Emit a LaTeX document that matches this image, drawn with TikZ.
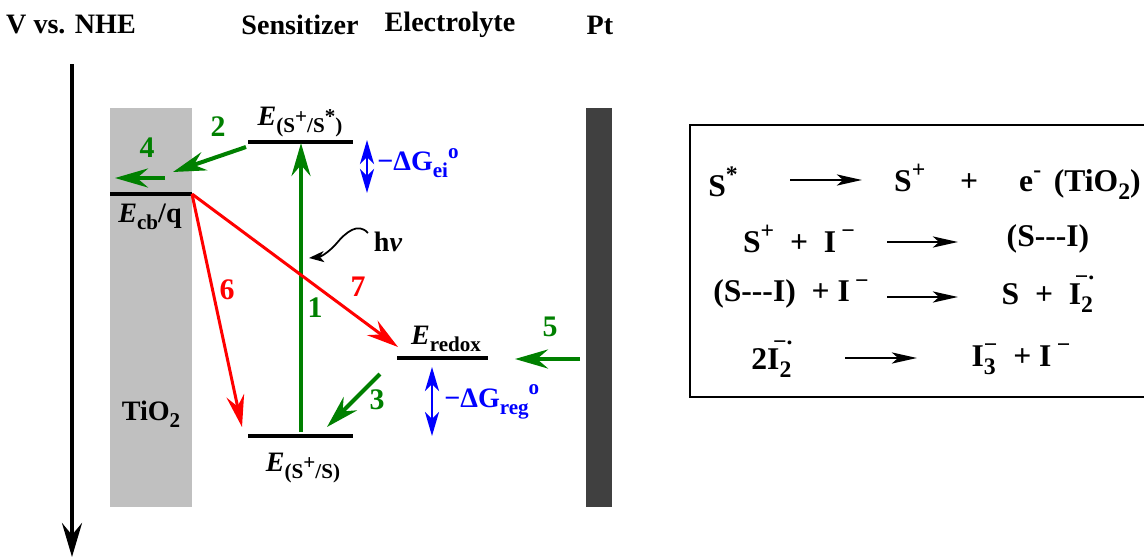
\documentclass[tikz,border=0pt]{standalone}
\usepackage{fontspec}
\setmainfont{Liberation Serif}
\usetikzlibrary{arrows.meta,positioning,calc}
\definecolor{dgreen}{RGB}{0,128,0}
\definecolor{tigray}{RGB}{192,192,192}
\definecolor{ptgray}{RGB}{64,64,64}
\newcommand{\subsz}{12}
\newcommand{\lo}[1]{\raisebox{-0.55ex}{\fontsize{\subsz}{\subsz}\selectfont #1}}
\newcommand{\hi}[1]{\raisebox{0.95ex}{\fontsize{\subsz}{\subsz}\selectfont #1}}
\newcommand{\Itwo}{I\rlap{\lo{2}}\kern-0.2em\raisebox{0.62em}{\fontsize{\subsz}{\subsz}\selectfont −\raisebox{0.45ex}{.}}}
\tikzset{
  >=Stealth,
  txt/.style={font=\fontsize{16}{19}\selectfont\bfseries, inner sep=0pt},
  rxn/.style={font=\fontsize{18}{22}\selectfont\bfseries\def\subsz{13.5}, inner sep=0pt},
}

\begin{document}
\begin{tikzpicture}[
  x=0.02cm,y=-0.02cm,
  num/.style={txt, font=\fontsize{17}{20}\selectfont\bfseries},
  lvl/.style={line width=2pt},
  garr/.style={dgreen, line width=2.3pt, -{Stealth[length=0.66cm,width=0.38cm,inset=0.22cm]}},
  rarr/.style={red, line width=1.7pt, -{Stealth[length=0.64cm,width=0.36cm,inset=0.22cm]}},
  barr/.style={blue, line width=1.6pt, {Stealth[length=0.48cm,width=0.28cm,inset=0.14cm]}-{Stealth[length=0.48cm,width=0.28cm,inset=0.14cm]}},
  rarrow/.style={line width=1.7pt, -{Stealth[length=0.5cm,width=0.22cm,inset=0.12cm]}}
]
\useasboundingbox (0,0) rectangle (1144,558);

% headers
\node[txt] (hdV)  at (71,25)  {V vs. NHE};
\node[txt] (hdS)  at (300,25) {Sensitizer};
\node[txt] (hdE)  at (450,25) {Electrolyte};
\node[txt] (hdPt) at (600,25) {Pt};

% energy axis
\coordinate (axtop) at (72,64);
\coordinate (axbot) at (72,557);
\draw[line width=2.3pt, -{Stealth[length=0.68cm,width=0.4cm,inset=0.24cm]}] (axtop) -- (axbot);

% electrodes
\fill[tigray] (110,108) rectangle (192,507);
\fill[ptgray] (586,108) rectangle (612,507);
\node[txt] (tio) at (151,414) {TiO\lo{2}};

% levels
\coordinate (cbL) at (110,194);  \coordinate (cbR) at (192,194);
\coordinate (exL) at (248,142);  \coordinate (exR) at (353,142);
\coordinate (gsL) at (248,436);  \coordinate (gsR) at (353,436);
\coordinate (rdL) at (397,358);  \coordinate (rdR) at (488,358);
\draw[lvl] (cbL) -- (cbR);
\draw[lvl] (exL) -- (exR);
\draw[lvl] (gsL) -- (gsR);
\draw[lvl] (rdL) -- (rdR);

\node[txt] (Ecb)  at (150,217) {{\itshape E}\lo{cb}/q};
\node[txt] (Eex)  at (300,122) {{\itshape E}\lo{(S\hi{+}/S\hi{*})}};
\node[txt] (Egs)  at (303,468) {{\itshape E}\lo{(S\hi{+}/S)}};
\node[txt] (Erd)  at (446,339) {{\itshape E}\lo{redox}};

% processes
\coordinate (p1a) at (301,432); \coordinate (p1b) at (301,143);
\coordinate (p2a) at (246,147); \coordinate (p2b) at (173,172);
\coordinate (p4a) at (165,178); \coordinate (p4b) at (115,178);
\coordinate (p6b) at (242,427);
\coordinate (p7b) at (398,347);
\coordinate (p3a) at (380,374); \coordinate (p3b) at (327,427);
\coordinate (p5a) at (580,359); \coordinate (p5b) at (515,359);

\draw[garr] (p1a) -- (p1b);
\draw[garr] (p2a) -- (p2b);
\draw[garr] (p4a) -- (p4b);
\draw[garr] (p3a) -- (p3b);
\draw[garr] (p5a) -- (p5b);
\draw[rarr] (cbR) -- (p6b);
\draw[rarr] (cbR) -- (p7b);

\node[num, dgreen] (n1) at (315,308) {1};
\node[num, dgreen] (n2) at (218,127) {2};
\node[num, dgreen] (n3) at (377,400) {3};
\node[num, dgreen] (n4) at (147,148) {4};
\node[num, dgreen] (n5) at (550,327) {5};
\node[num, red]    (n6) at (227,290) {6};
\node[num, red]    (n7) at (358,287) {7};

% driving forces
\coordinate (gei1) at (367,140); \coordinate (gei2) at (367,193);
\coordinate (grg1) at (432,367); \coordinate (grg2) at (432,436);
\draw[barr] (gei1) -- (gei2);
\draw[barr] (grg1) -- (grg2);
\node[txt, blue, anchor=west] (Gei) at (377,163) {−ΔG\lo{ei}\hi{o}};
\node[txt, blue, anchor=west] (Grg) at (444,402) {−ΔG\lo{reg}\hi{o}};

% photon
\node[txt] (hnu) at (388,242) {h{\itshape ν}};
\coordinate (hnutip) at (309,258);
\draw[line width=1pt, -{Stealth[length=0.3cm,width=0.22cm,inset=0.08cm]}]
  (368,233) .. controls (358,222) and (346,232) .. (336,244)
  .. controls (328,253) and (320,257) .. (hnutip);

% reactions
\draw[line width=1.1pt] (1150,125) -| (690,397) -- (1150,397);

\node[rxn] (r1a) at (723,182)  {S\hi{*}};
\node[rxn, anchor=east] (r1b) at (1141,182) {S\hi{+}\hspace{1.1em}+\hspace{1.3em}e\hi{-}\hspace{0.4em}(TiO\lo{2})};
\node[rxn] (r2a) at (799,239)  {S\hi{+}\enspace+\enspace I\,\hi{−}};
\node[rxn] (r2b) at (1048,239) {(S-{}-{}-I)};
\node[rxn] (r3a) at (791,294)  {(S-{}-{}-I)\enspace + I\,\hi{−}};
\node[rxn] (r3b) at (1048,294) {S\enspace+\enspace\Itwo};
\node[rxn] (r4a) at (772,359)  {2\Itwo};
\node[rxn] (r4b) at (1021,359) {I\rlap{\lo{3}}\hi{−}\enspace+ I\,\hi{−}};

\coordinate (a1a) at (790,180); \coordinate (a1b) at (862,180);
\coordinate (a2a) at (887,242); \coordinate (a2b) at (958,242);
\coordinate (a3a) at (887,297); \coordinate (a3b) at (958,297);
\coordinate (a4a) at (845,358); \coordinate (a4b) at (917,358);
\draw[rarrow] (a1a) -- (a1b);
\draw[rarrow] (a2a) -- (a2b);
\draw[rarrow] (a3a) -- (a3b);
\draw[rarrow] (a4a) -- (a4b);

\end{tikzpicture}
\end{document}
